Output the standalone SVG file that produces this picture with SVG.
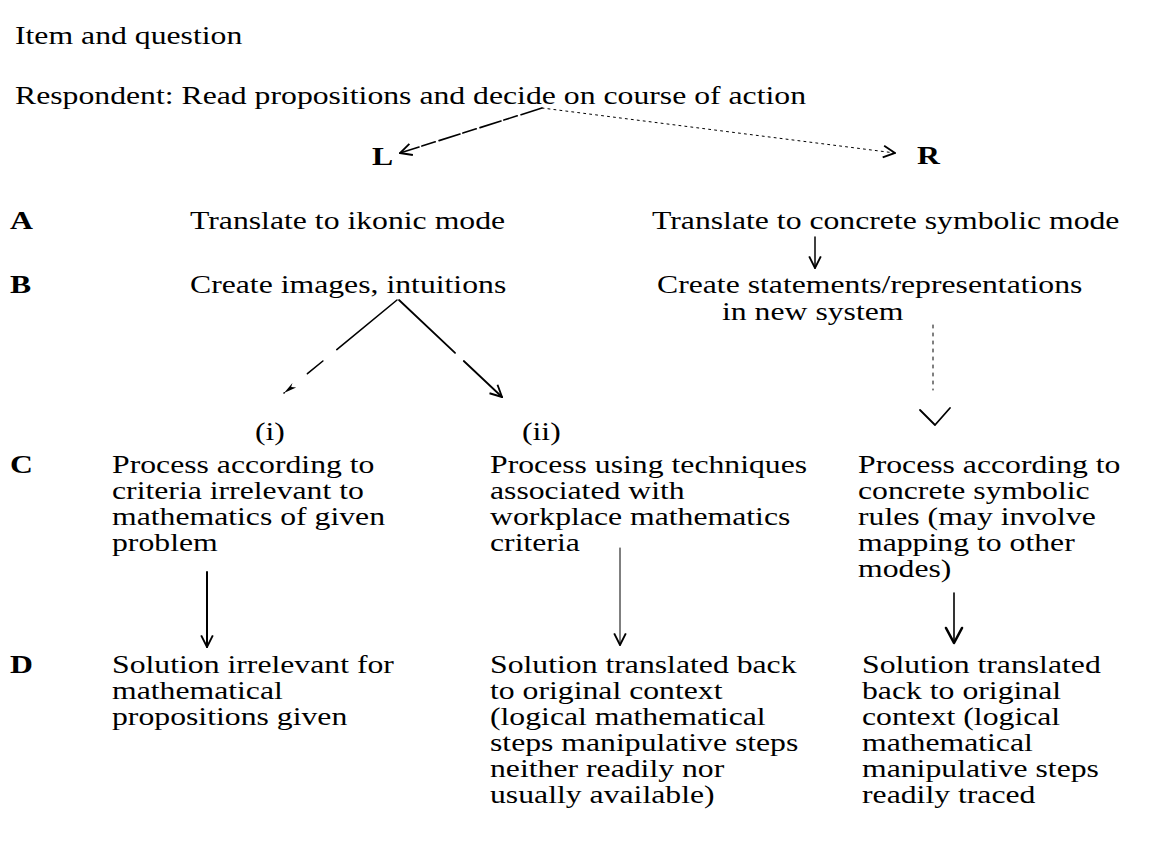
<svg xmlns="http://www.w3.org/2000/svg" width="1150" height="865" viewBox="0 0 1150 865">
<defs>
<style>
.t{font-family:"Liberation Serif","Times New Roman",serif;font-size:26px;fill:#000}
.b{font-weight:bold}
.c{fill:none;stroke:#000;stroke-linecap:round;stroke-linejoin:round}
</style>
<marker id="open" viewBox="0 0 12 12" refX="11" refY="6" markerWidth="14" markerHeight="14" markerUnits="userSpaceOnUse" orient="auto">
<path d="M1,1 L11,6 L1,11" fill="none" stroke="#000" stroke-width="1.6"/>
</marker>
<marker id="dart" viewBox="0 0 12 12" refX="11" refY="6" markerWidth="18" markerHeight="14" markerUnits="userSpaceOnUse" orient="auto">
<path d="M0,3 L11,6 L0,8 L3,6 Z" fill="#000"/>
</marker>
</defs>
<rect width="1150" height="865" fill="#fff"/>

<g id="header">
<text class="t" transform="translate(15,44) scale(1.22,1)">Item and question</text>
<text class="t" transform="translate(15,104) scale(1.22,1)">Respondent: Read propositions and decide on course of action</text>
</g>
<g id="L"><text class="t b" transform="translate(372,165) scale(1.22,1)">L</text></g>
<g id="R"><text class="t b" transform="translate(917,164) scale(1.22,1)">R</text></g>

<g id="rowlabels">
<text class="t b" transform="translate(10,229) scale(1.22,1)">A</text>
<text class="t b" transform="translate(10,293) scale(1.22,1)">B</text>
<text class="t b" transform="translate(10,473) scale(1.22,1)">C</text>
<text class="t b" transform="translate(10,673) scale(1.22,1)">D</text>
</g>

<g id="A-left"><text class="t" transform="translate(190,229) scale(1.22,1)">Translate to ikonic mode</text></g>
<g id="A-right"><text class="t" transform="translate(652,229) scale(1.22,1)">Translate to concrete symbolic mode</text></g>
<g id="B-left"><text class="t" transform="translate(190,293) scale(1.22,1)">Create images, intuitions</text></g>
<g id="B-right"><text class="t" transform="translate(657,293) scale(1.22,1)">Create statements/representations<tspan x="53.3" dy="27">in new system</tspan></text></g>

<g id="label-i"><text class="t" transform="translate(255,440) scale(1.22,1)">(i)</text></g>
<g id="label-ii"><text class="t" transform="translate(522,440) scale(1.22,1)">(ii)</text></g>

<g id="C1"><text class="t" transform="translate(112,473) scale(1.22,1)"><tspan x="0">Process according to</tspan><tspan x="0" dy="26">criteria irrelevant to</tspan><tspan x="0" dy="26">mathematics of given</tspan><tspan x="0" dy="26">problem</tspan></text></g>
<g id="C2"><text class="t" transform="translate(490,473) scale(1.22,1)"><tspan x="0">Process using techniques</tspan><tspan x="0" dy="26">associated with</tspan><tspan x="0" dy="26">workplace mathematics</tspan><tspan x="0" dy="26">criteria</tspan></text></g>
<g id="C3"><text class="t" transform="translate(858,473) scale(1.22,1)"><tspan x="0">Process according to</tspan><tspan x="0" dy="26">concrete symbolic</tspan><tspan x="0" dy="26">rules (may involve</tspan><tspan x="0" dy="26">mapping to other</tspan><tspan x="0" dy="26">modes)</tspan></text></g>

<g id="D1"><text class="t" transform="translate(112,673) scale(1.22,1)"><tspan x="0">Solution irrelevant for</tspan><tspan x="0" dy="26">mathematical</tspan><tspan x="0" dy="26">propositions given</tspan></text></g>
<g id="D2"><text class="t" transform="translate(490,673) scale(1.22,1)"><tspan x="0">Solution translated back</tspan><tspan x="0" dy="26">to original context</tspan><tspan x="0" dy="26">(logical mathematical</tspan><tspan x="0" dy="26">steps manipulative steps</tspan><tspan x="0" dy="26">neither readily nor</tspan><tspan x="0" dy="26">usually available)</tspan></text></g>
<g id="D3"><text class="t" transform="translate(862,673) scale(1.22,1)"><tspan x="0">Solution translated</tspan><tspan x="0" dy="26">back to original</tspan><tspan x="0" dy="26">context (logical</tspan><tspan x="0" dy="26">mathematical</tspan><tspan x="0" dy="26">manipulative steps</tspan><tspan x="0" dy="26">readily traced</tspan></text></g>

<g id="connectors">
<path class="c" d="M542,108 L400,153" stroke-width="1.6" stroke-dasharray="22 4 14 3" marker-end="url(#open)"/>
<path class="c" d="M542,108 L895,153" stroke-width="1" stroke-dasharray="2 4" marker-end="url(#open)"/>
<path class="c" d="M815,237 L815,268" stroke-width="1.5" marker-end="url(#open)"/>
<path class="c" d="M397,300 L284,393" stroke-width="1.6" stroke-dasharray="78 18 20 30" marker-end="url(#dart)"/>
<path class="c" d="M399,300 L502,397" stroke-width="1.8" stroke-dasharray="77 12 200" marker-end="url(#open)"/>
<path class="c" d="M933,325 L933,390" stroke-width="1" stroke-dasharray="3 5"/>
<path class="c" d="M920,410 L935,425 L950,408" stroke-width="1.8"/>
<path class="c" d="M207,572 L207,647" stroke-width="2" marker-end="url(#open)"/>
<path class="c" d="M620,548 L620,645" stroke-width="1" marker-end="url(#open)"/>
<path class="c" d="M954,593 L954,642" stroke-width="1.6"/>
<path class="c" d="M946,628 L954,643 L962,628" stroke-width="2.6"/>
</g>
</svg>
